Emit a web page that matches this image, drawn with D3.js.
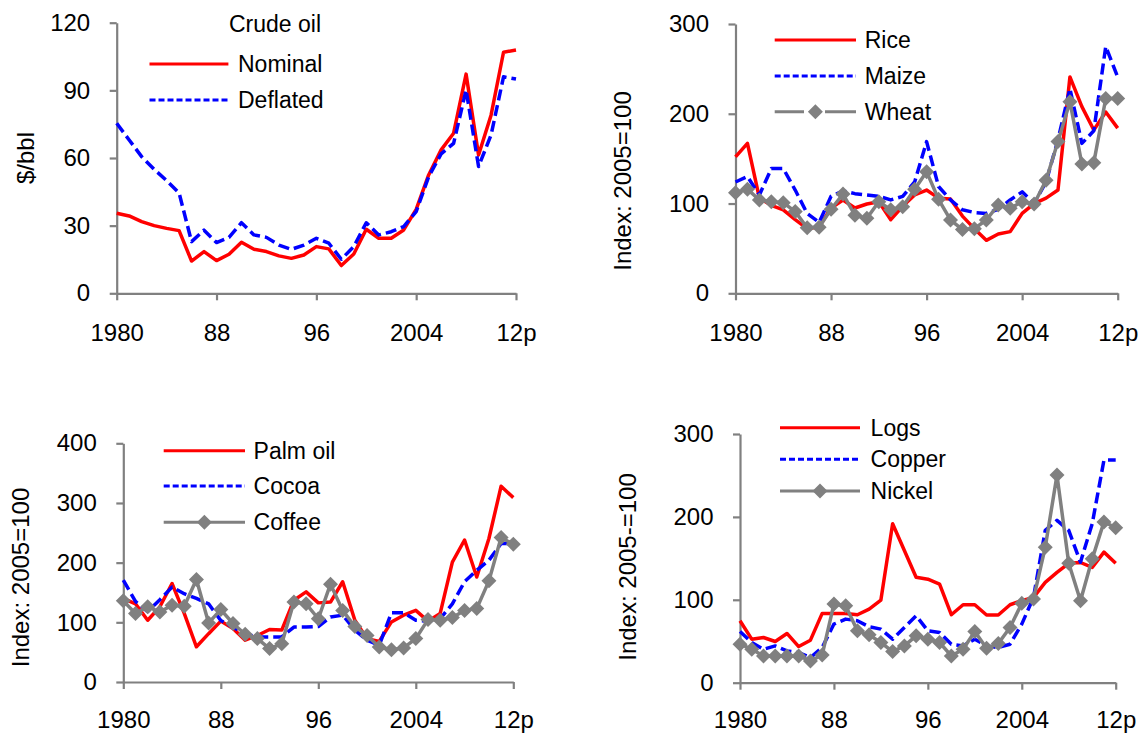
<!DOCTYPE html>
<html>
<head>
<meta charset="utf-8">
<script src="https://cdn.jsdelivr.net/npm/d3@7"></script>
<style>
  html, body { margin: 0; padding: 0; background: #fff; }
  svg { display: block; }
  text { font-family: "Liberation Sans", Arial, sans-serif; fill: #000; }
</style>
</head>
<body>
<svg id="chart" width="1141" height="734"></svg>
<script>
// ---------- data ----------
const years = [1980,1981,1982,1983,1984,1985,1986,1987,1988,1989,1990,1991,1992,1993,1994,1995,1996,
               1997,1998,1999,2000,2001,2002,2003,2004,2005,2006,2007,2008,2009,2010,2011,2012];
const xTickYears = [1980, 1988, 1996, 2004, 2012];
const xTickLabels = ["1980", "88", "96", "2004", "12p"];

// Panel 1: crude oil ($/bbl)
const crudeNominal  = [35.5,34.3,31.8,30,28.8,27.8,14.3,18.5,14.5,17.3,22.6,19.5,18.5,16.6,15.5,17,20.7,19.7,12.3,17.4,28.4,24.4,24.4,28.1,37.2,52.5,63.6,71,97.2,61.3,79,106.9,107.9];
const crudeDeflated = [75.4,68,60.6,55,50,44.5,22.9,28,22.5,24.8,31.3,25.9,24.8,21.4,19.5,21.4,24.4,22.2,15.1,20.7,31.3,25.9,27.3,29.6,36.2,51.7,61.8,66.5,90.2,56.2,70.2,96,95];
const crudeTicks = [0, 30, 60, 90, 120];

// Panel 2: grains (index 2005=100)
const rice  = [152,167,106,98,93,82,72,74,95,104,95,99.5,102,82,97,109.5,115,106,105,86,72,59,66,68.7,89,100,106,115,241,208,182,202,184];
const maize = [124,130,109.5,139,139,115,89,79,108,114,111,109.5,108,104,108,124,169,119,104,93,90,89,93.6,104,113,100,124,171,228,167,181,275,241];
const wheat = [112,116,104,102,101,91,73,73.5,93.6,110.6,87,83.5,102,93,96.5,116,135.5,104.7,81.7,71,72,81.7,98.4,94.7,102,99.5,126,169,213.5,144,145.5,217,217];
const grainTicks = [0, 100, 200, 300];

// Panel 3: beverages & palm oil (index 2005=100)
const palmOil = [140,131,103.5,126,165,115,59,81,102,89.5,70,78,88,87,137,151,132.6,134,168,103.5,72.7,68,100.7,112,120,102,115,201,238,176,240.5,328,309];
const cocoa   = [170.6,135,118,138,159,148,140,131,103,92,81,75.5,75.5,75.5,92,92,93,109,112,87,70,61.5,116,116,103.5,102,106,131,168,187,204,232,232];
const coffee  = [136,114.7,126,117.5,128.7,127,171.7,99,121.4,98,80,72.7,56,64,134,131,106,164,120,93,78,58.7,54,57,72.7,104.6,103.5,108,120,123,169.5,242,231];
const bevTicks = [0, 100, 200, 300, 400];

// Panel 4: logs & metals (index 2005=100)
const logs   = [74.7,52.5,54.5,49.7,59.4,43.6,51.3,83.6,83.6,83.6,82,88.8,99.7,191.8,159.5,127.2,124.8,119,82,94,94,81.6,81.6,94,99,103,121,133,144,145,139,157.5,144];
const copper = [61.8,48.5,40.4,44.4,38.4,36.3,30.3,42.4,70.7,76.7,74.7,67.4,64.6,52.5,66.6,80.8,62.6,60.6,46.4,44.4,52.5,44.4,42.4,46.4,70.7,103,183.7,195.8,183.7,145.4,191.8,268.5,268.5];
const nickel = [46.4,40.4,32.3,32.3,32.3,32.3,26.2,33.5,94.9,92.9,62.6,57.7,48.5,37.6,44.4,56.5,52.5,48.5,32.3,40.4,61.8,41.6,47.2,66.6,95.7,101,163.5,250.4,144.2,98.9,149.4,193.8,187];
const metalTicks = [0, 100, 200, 300];

// ---------- styles ----------
const RED = "#ff0000", BLUE = "#0000ff", GRAY = "#808080";
const styles = {
  red:   { color: RED,  dash: null,   marker: false },
  blue:  { color: BLUE, dash: "11,5", legendDash: "6,3", marker: false },
  grayD: { color: GRAY, dash: null,   legendDash: "29.3,21,31", marker: true },
  gray:  { color: GRAY, dash: null,   marker: true }
};

// ---------- panels (layout) ----------
const panels = [
  { x0: 116.7, x1: 516, yBottom: 293.3, yTop: 22.7, yMax: 120, ticks: crudeTicks, labelY: 48,
    yTitle: "$/bbl", titleX: 25, titleY: 158,
    legendTitle: { text: "Crude oil", x: 275, y: 24 },
    legend: { lx0: 149.5, lx1: 228.4, tx: 238, ys: [64, 100] },
    series: [ { name: "Nominal", values: crudeNominal, style: "red" },
              { name: "Deflated", values: crudeDeflated, style: "blue" } ] },
  { x0: 735.5, x1: 1117.7, yBottom: 293.3, yTop: 24, yMax: 300, ticks: grainTicks, labelY: 48,
    yTitle: "Index: 2005=100", titleX: 622, titleY: 181,
    legend: { lx0: 774.7, lx1: 856, tx: 864.7, ys: [40, 76, 111.7] },
    series: [ { name: "Rice", values: rice, style: "red" },
              { name: "Maize", values: maize, style: "blue" },
              { name: "Wheat", values: wheat, style: "grayD" } ] },
  { x0: 123.3, x1: 513.3, yBottom: 682, yTop: 443.3, yMax: 400, ticks: bevTicks, labelY: 46,
    yTitle: "Index: 2005=100", titleX: 20, titleY: 577.5,
    legend: { lx0: 163.7, lx1: 245, tx: 253.6, ys: [450.7, 486, 522.3] },
    series: [ { name: "Palm oil", values: palmOil, style: "red" },
              { name: "Cocoa", values: cocoa, style: "blue" },
              { name: "Coffee", values: coffee, style: "gray" } ] },
  { x0: 740, x1: 1115.7, yBottom: 682.7, yTop: 434, yMax: 300, ticks: metalTicks, labelY: 45.5,
    yTitle: "Index: 2005-=100", titleX: 627, titleY: 567,
    legend: { lx0: 780, lx1: 860, tx: 870.6, ys: [427.7, 459.3, 491] },
    series: [ { name: "Logs", values: logs, style: "red" },
              { name: "Copper", values: copper, style: "blue" },
              { name: "Nickel", values: nickel, style: "gray" } ] }
];

const svg = d3.select("#chart");
const diamond = r => `M0,${-r}L${r},0L0,${r}L${-r},0Z`;

panels.forEach(p => {
  const g = svg.append("g");
  const x = d3.scaleLinear().domain([years[0], years[years.length - 1]]).range([p.x0, p.x1]);
  const y = d3.scaleLinear().domain([0, p.yMax]).range([p.yBottom, p.yTop]);

  // y axis
  const ya = g.append("g").attr("transform", `translate(${p.x0},0)`)
    .call(d3.axisLeft(y).tickValues(p.ticks).tickSize(7).tickSizeOuter(0).tickPadding(19.5));
  // x axis
  const xa = g.append("g").attr("transform", `translate(0,${p.yBottom})`)
    .call(d3.axisBottom(x).tickValues(xTickYears).tickSize(7).tickSizeOuter(0)
      .tickFormat((d, i) => xTickLabels[i]));
  [ya, xa].forEach(a => {
    a.select(".domain").attr("stroke", GRAY).attr("stroke-width", 2.2);
    a.selectAll(".tick line").attr("stroke", GRAY).attr("stroke-width", 2.2);
    a.selectAll(".tick text").attr("font-size", 24).attr("fill", "#000")
      .style("font-family", '"Liberation Sans", Arial, sans-serif');
  });
  xa.selectAll(".tick text").attr("y", p.labelY).attr("dy", 0);

  // y title
  g.append("text")
    .attr("transform", `translate(${p.titleX},${p.titleY}) rotate(-90)`)
    .attr("text-anchor", "middle").attr("dominant-baseline", "central")
    .attr("font-size", 24).text(p.yTitle);

  // series
  const line = d3.line().x((d, i) => x(years[i])).y(d => y(d));
  p.series.forEach(s => {
    const st = styles[s.style];
    g.append("path").datum(s.values)
      .attr("d", line).attr("fill", "none")
      .attr("stroke", st.color).attr("stroke-width", 3.5)
      .attr("stroke-linejoin", "round")
      .attr("stroke-dasharray", st.dash);
    if (st.marker) {
      g.selectAll(null).data(s.values).enter().append("path")
        .attr("d", diamond(7.5))
        .attr("transform", (d, i) => `translate(${x(years[i])},${y(d)})`)
        .attr("fill", st.color);
    }
  });

  // legend
  if (p.legendTitle) {
    g.append("text").attr("x", p.legendTitle.x).attr("y", p.legendTitle.y)
      .attr("text-anchor", "middle").attr("dominant-baseline", "central")
      .attr("font-size", 23).text(p.legendTitle.text);
  }
  p.series.forEach((s, k) => {
    const st = styles[s.style];
    const ly = p.legend.ys[k];
    g.append("line").attr("x1", p.legend.lx0).attr("x2", p.legend.lx1)
      .attr("y1", ly).attr("y2", ly)
      .attr("stroke", st.color).attr("stroke-width", 3)
      .attr("stroke-dasharray", st.legendDash || st.dash);
    if (st.marker) {
      g.append("path").attr("d", diamond(7.5))
        .attr("transform", `translate(${(p.legend.lx0 + p.legend.lx1) / 2},${ly})`)
        .attr("fill", st.color);
    }
    g.append("text").attr("x", p.legend.tx).attr("y", ly)
      .attr("dominant-baseline", "central").attr("font-size", 23).text(s.name);
  });
});
</script>
</body>
</html>
